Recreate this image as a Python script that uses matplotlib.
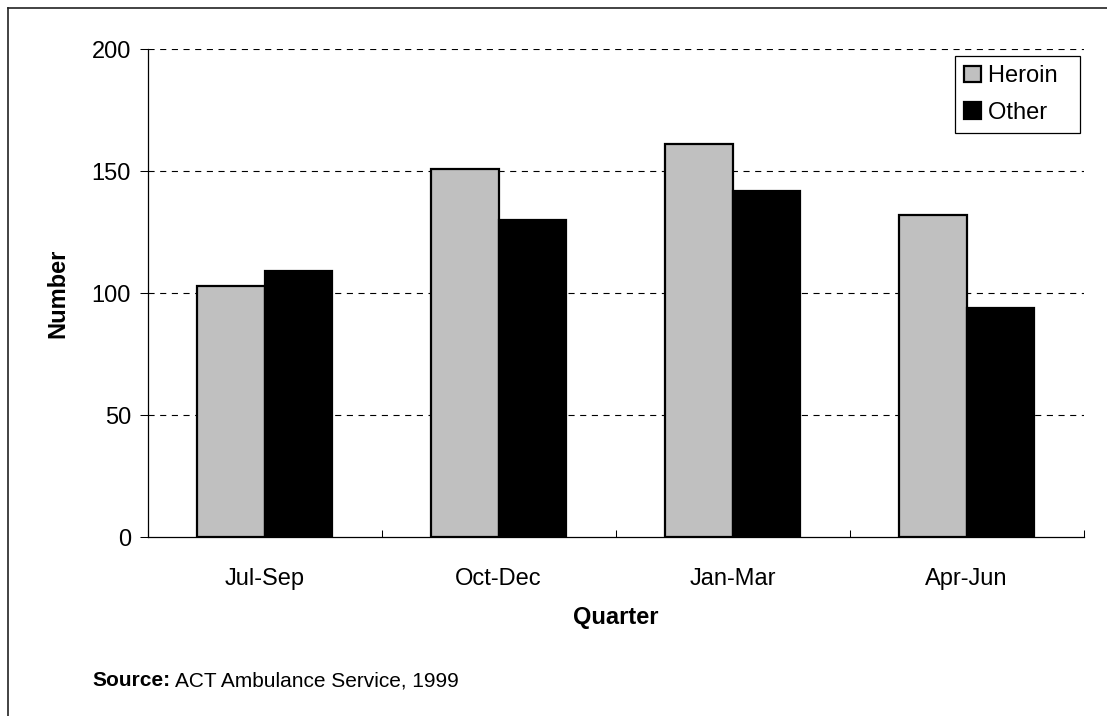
import numpy as np
import matplotlib
matplotlib.use("Agg")
import matplotlib.pyplot as plt
from matplotlib.patches import Patch
from matplotlib.lines import Line2D

# data
quarters = ["Jul-Sep", "Oct-Dec", "Jan-Mar", "Apr-Jun"]
heroin = [103, 151, 161, 132]
other = [109, 130, 142, 94]
y_ticks = [0, 50, 100, 150, 200]

plt.rcParams["font.family"] = ["Liberation Sans", "DejaVu Sans"]

W, H = 1107, 716
fig = plt.figure(figsize=(W / 100, H / 100), dpi=100)
ax = fig.add_axes([147.6 / W, 1 - 537 / H, 936 / W, 488 / H])

x = np.arange(len(quarters))
bw = 0.288
ax.bar(x - bw / 2, heroin, bw, color="#c0c0c0", edgecolor="black", linewidth=1.6, zorder=3)
ax.bar(x + bw / 2, other, bw, color="black", edgecolor="black", linewidth=1.6, zorder=3)

ax.set_xlim(-0.5, len(quarters) - 0.5)
ax.set_ylim(0, 200)
ax.set_yticks(y_ticks)
ax.set_yticklabels([str(v) for v in y_ticks], fontsize=17)
ax.set_xticks(x)
ax.set_xticklabels(quarters, fontsize=17)
ax.set_xticks(np.arange(-0.5, len(quarters)), minor=True)

ax.tick_params(axis="x", which="major", length=0, pad=22)
ax.tick_params(axis="x", which="minor", direction="in", length=5, width=0.75)
ax.tick_params(axis="y", direction="out", length=6, width=0.75, pad=6)

# dashed gridlines (skip the zero line)
for v in y_ticks[1:]:
    ax.axhline(v, color="black", linewidth=0.8, dashes=(5.5, 5), zorder=1)

for s in ["top", "right"]:
    ax.spines[s].set_visible(False)
for s in ["left", "bottom"]:
    ax.spines[s].set_linewidth(0.9)

ax.set_ylabel("Number", fontsize=17, fontweight="bold", labelpad=16)
ax.set_xlabel("Quarter", fontsize=17, fontweight="bold", labelpad=12)

handles = [Patch(facecolor="#c0c0c0", edgecolor="black", linewidth=1.6),
           Patch(facecolor="black", edgecolor="black", linewidth=1.6)]
leg = fig.legend(handles, ["Heroin  ", "Other  "], loc="upper right",
                 bbox_to_anchor=(1080 / W, 1 - 56 / H), fontsize=17,
                 handlelength=0.7, handleheight=0.7, handletextpad=0.3,
                 labelspacing=0.6, borderpad=0.4, borderaxespad=0,
                 fancybox=False, framealpha=1, edgecolor="black")
leg.get_frame().set_linewidth(0.9)

# source note: bold prefix, then the rest placed right after it
src_y = 1 - 681 / H
t1 = fig.text(92 / W, src_y, "Source:", fontsize=15, fontweight="bold", va="center")
fig.canvas.draw()
bb = t1.get_window_extent(renderer=fig.canvas.get_renderer())
fig.text(bb.x1 / W + 5 / W, src_y, "ACT Ambulance Service, 1999", fontsize=15, va="center")

# border around the chart (only top and left are visible in the original crop)
fig.add_artist(Line2D([8 / W, 1.01], [1 - 8 / H, 1 - 8 / H], color="#222222", linewidth=1.2))
fig.add_artist(Line2D([8 / W, 8 / W], [-0.01, 1 - 8 / H], color="#222222", linewidth=1.2))

fig.savefig("out.png", dpi=100)
